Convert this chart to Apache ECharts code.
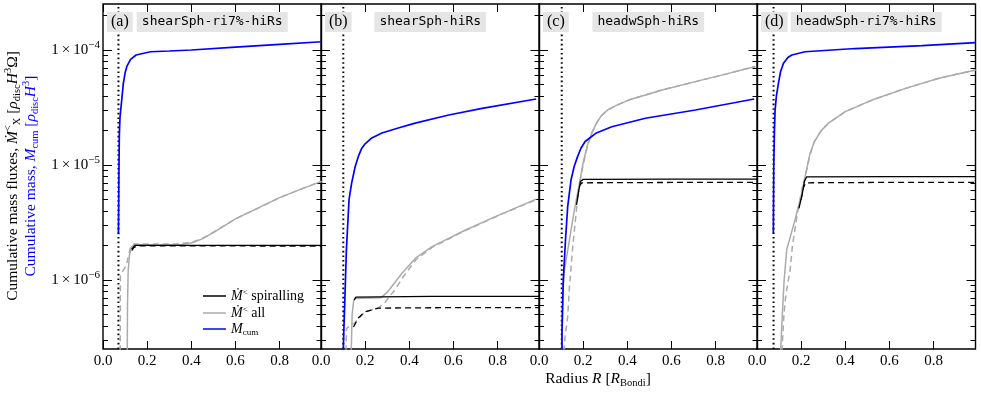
<!DOCTYPE html>
<html><head><meta charset="utf-8">
<script src="https://cdn.jsdelivr.net/npm/echarts@6/dist/echarts.min.js"></script>
<style>html,body{margin:0;padding:0;background:#fff}#c{width:981px;height:393px}</style>
</head><body><div id="c"></div>
<script>
// ---------- data ----------
const panelTags = ['(a)', '(b)', '(c)', '(d)'];
const runNames = ['shearSph-ri7%-hiRs', 'shearSph-hiRs', 'headwSph-hiRs', 'headwSph-ri7%-hiRs'];
const innerRadius = [0.07, 0.101, 0.103, 0.075];
const xTickValues = [0, 0.2, 0.4, 0.6, 0.8];
const yMajorTicks = [1e-6, 1e-5, 1e-4];
const yMinorTicks = [3e-7, 4e-7, 5e-7, 6e-7, 7e-7, 8e-7, 9e-7,
  2e-6, 3e-6, 4e-6, 5e-6, 6e-6, 7e-6, 8e-6, 9e-6,
  2e-5, 3e-5, 4e-5, 5e-5, 6e-5, 7e-5, 8e-5, 9e-5, 2e-4];
const xRange = [0, 0.99];
const yRange = [2.512e-7, 2.512e-4];

// panel (a) shearSph-ri7%-hiRs
const aMcum = [[0.070,2.5e-6],[0.072,8e-6],[0.074,1.8e-5],[0.077,2.6e-5],[0.085,3.7e-5],[0.092,5.1e-5],[0.1,6.3e-5],[0.108,7.2e-5],[0.125,8.3e-5],[0.15,9.05e-5],[0.215,9.66e-5],[0.3,9.8e-5],[0.4,1.0e-4],[0.6,1.06e-4],[0.8,1.12e-4],[0.99,1.18e-4]];
const aSpiral = [[0.13,1.85e-6],[0.145,2.0e-6],[0.5,2.0e-6],[0.99,2.0e-6]];
const aSpiralDash = [[0.13,1.8e-6],[0.14,1.92e-6],[0.155,1.98e-6],[0.5,1.98e-6],[0.99,1.97e-6]];
const aAll = [[0.110,2.4e-7],[0.111,6e-7],[0.114,1.2e-6],[0.12,1.65e-6],[0.13,1.95e-6],[0.145,2.03e-6],[0.35,2.03e-6],[0.4,2.1e-6],[0.45,2.28e-6],[0.5,2.58e-6],[0.6,3.4e-6],[0.7,4.2e-6],[0.8,5.2e-6],[0.9,6.2e-6],[0.99,7.2e-6]];
const aAllDash = [[0.078,2.4e-7],[0.079,1.1e-6],[0.09,1.2e-6],[0.105,1.32e-6],[0.115,1.6e-6],[0.125,1.95e-6],[0.14,2.06e-6],[0.33,2.06e-6],[0.4,2.12e-6],[0.45,2.3e-6],[0.5,2.6e-6],[0.6,3.4e-6],[0.7,4.2e-6],[0.8,5.2e-6],[0.9,6.2e-6],[0.99,7.2e-6]];

// panel (b) shearSph-hiRs
const bMcum = [[0.101,2.4e-7],[0.103,3.4e-7],[0.108,6.7e-7],[0.115,1.82e-6],[0.127,5e-6],[0.139,7.0e-6],[0.155,9.7e-6],[0.17,1.2e-5],[0.185,1.4e-5],[0.2,1.53e-5],[0.23,1.72e-5],[0.276,1.9e-5],[0.35,2.1e-5],[0.427,2.31e-5],[0.579,2.72e-5],[0.73,3.11e-5],[0.975,3.75e-5]];
const bSpiral = [[0.15,6.7e-7],[0.158,7.1e-7],[0.5,7.2e-7],[0.99,7.2e-7]];
const bSpiralDash = [[0.147,3.9e-7],[0.17,4.7e-7],[0.2,5.3e-7],[0.26,5.7e-7],[0.6,5.75e-7],[0.99,5.75e-7]];
const bAll = [[0.137,2.4e-7],[0.141,5e-7],[0.148,6.6e-7],[0.156,6.9e-7],[0.27,7.0e-7],[0.3,7.8e-7],[0.32,8.75e-7],[0.366,1.14e-6],[0.427,1.54e-6],[0.503,1.95e-6],[0.655,2.72e-6],[0.806,3.67e-6],[0.975,5.05e-6]];
const bAllDash = [[0.113,2.4e-7],[0.116,3.8e-7],[0.15,4.2e-7],[0.2,5.3e-7],[0.26,5.7e-7],[0.29,6.4e-7],[0.335,8.2e-7],[0.37,1.05e-6],[0.43,1.5e-6],[0.503,1.92e-6],[0.655,2.7e-6],[0.806,3.65e-6],[0.975,5.0e-6]];

// panel (c) headwSph-hiRs
const cMcum = [[0.104,2.4e-7],[0.104,3.5e-7],[0.11,1e-6],[0.12,2.23e-6],[0.13,4.35e-6],[0.145,7.4e-6],[0.16,9.8e-6],[0.176,1.2e-5],[0.19,1.4e-5],[0.209,1.6e-5],[0.26,1.9e-5],[0.33,2.15e-5],[0.482,2.55e-5],[0.709,3.01e-5],[0.975,3.75e-5]];
const cSpiral = [[0.17,4.5e-6],[0.18,6.0e-6],[0.188,7.2e-6],[0.2,7.5e-6],[0.6,7.55e-6],[0.99,7.55e-6]];
const cSpiralDash = [[0.175,5.3e-6],[0.185,6.7e-6],[0.195,7.0e-6],[0.6,7.05e-6],[0.99,7.05e-6]];
const cAll = [[0.104,2.4e-7],[0.108,8e-7],[0.115,1.22e-6],[0.138,2.23e-6],[0.16,4.05e-6],[0.183,6.9e-6],[0.2,1.05e-5],[0.22,1.5e-5],[0.24,1.92e-5],[0.26,2.3e-5],[0.28,2.65e-5],[0.31,3.0e-5],[0.35,3.3e-5],[0.406,3.67e-5],[0.558,4.49e-5],[0.709,5.31e-5],[0.85,6.2e-5],[0.98,7.2e-5]];
const cAllDash = [[0.113,2.4e-7],[0.118,3.2e-7],[0.13,4.8e-7],[0.138,8.7e-7],[0.153,1.95e-6],[0.168,3.8e-6],[0.18,6.3e-6],[0.2,1.0e-5],[0.22,1.48e-5],[0.24,1.9e-5],[0.26,2.3e-5],[0.28,2.65e-5],[0.31,3.0e-5],[0.35,3.3e-5],[0.406,3.67e-5],[0.558,4.49e-5],[0.709,5.31e-5],[0.85,6.2e-5],[0.98,7.2e-5]];

// panel (d) headwSph-ri7%-hiRs
const dMcum = [[0.074,2.55e-6],[0.076,1.0e-5],[0.079,2.0e-5],[0.082,3.0e-5],[0.088,4.0e-5],[0.097,5.13e-5],[0.107,6.5e-5],[0.12,7.66e-5],[0.14,8.6e-5],[0.158,9.05e-5],[0.218,9.66e-5],[0.445,1.03e-4],[0.748,1.09e-4],[0.99,1.16e-4]];
const dSpiral = [[0.19,4.2e-6],[0.205,5.6e-6],[0.215,7.2e-6],[0.225,7.9e-6],[0.6,7.93e-6],[0.99,7.93e-6]];
const dSpiralDash = [[0.2,5.0e-6],[0.21,6.3e-6],[0.22,7.0e-6],[0.6,7.06e-6],[0.99,7.06e-6]];
const dAll = [[0.107,2.4e-7],[0.115,5.13e-7],[0.123,1.0e-6],[0.135,1.85e-6],[0.168,3.11e-6],[0.199,5.3e-6],[0.221,8.5e-6],[0.24,1.25e-5],[0.26,1.6e-5],[0.29,1.98e-5],[0.324,2.31e-5],[0.4,2.91e-5],[0.521,3.67e-5],[0.673,4.64e-5],[0.824,5.68e-5],[0.99,6.7e-5]];
const dAllDash = [[0.113,2.4e-7],[0.122,5e-7],[0.13,7.2e-7],[0.14,9.5e-7],[0.15,1.22e-6],[0.16,1.95e-6],[0.183,3.8e-6],[0.206,6.5e-6],[0.221,8.3e-6],[0.24,1.23e-5],[0.26,1.6e-5],[0.29,1.98e-5],[0.324,2.31e-5],[0.4,2.91e-5],[0.521,3.67e-5],[0.673,4.64e-5],[0.824,5.68e-5],[0.99,6.7e-5]];

const panels = [
  {mcum: aMcum, spiral: aSpiral, spiralDash: aSpiralDash, all: aAll, allDash: aAllDash},
  {mcum: bMcum, spiral: bSpiral, spiralDash: bSpiralDash, all: bAll, allDash: bAllDash},
  {mcum: cMcum, spiral: cSpiral, spiralDash: cSpiralDash, all: cAll, allDash: cAllDash},
  {mcum: dMcum, spiral: dSpiral, spiralDash: dSpiralDash, all: dAll, allDash: dAllDash}
];

// ---------- layout / style ----------
const SERIF = 'Liberation Serif';
const MONO = 'DejaVu Sans Mono';
const gridLeft = [103, 321, 539, 757];
const gridW = 218.5, gridTop = 4, gridH = 345;
const BLUE = '#0000ff', GRAY = '#ababab', BLACK = '#000000';

const grids = [], xAxes = [], yAxes = [], series = [];
gridLeft.forEach((L, i) => {
  grids.push({left: L, top: gridTop, width: gridW, height: gridH, show: true,
    borderColor: '#000', borderWidth: 1.4, backgroundColor: 'transparent', outerBoundsMode: 'none', containLabel: false});
  const xBase = {gridIndex: i, type: 'value', min: xRange[0], max: xRange[1],
    axisLine: {show: false}, splitLine: {show: false}};
  xAxes.push(Object.assign({}, xBase, {position: 'bottom',
    axisTick: {inside: true, length: 8, customValues: xTickValues, lineStyle: {color: '#000', width: 1}},
    axisLabel: {customValues: xTickValues, fontFamily: SERIF, fontSize: 15, color: '#000', margin: 5,
      formatter: v => v.toFixed(1)}}));
  xAxes.push(Object.assign({}, xBase, {position: 'top',
    axisTick: {inside: true, length: 8, customValues: xTickValues, lineStyle: {color: '#000', width: 1}},
    axisLabel: {show: false}}));
  const yBase = {gridIndex: i, type: 'log', logBase: 10, min: yRange[0], max: yRange[1],
    axisLine: {show: false}, splitLine: {show: false}, minorTick: {show: false}};
  ['left', 'right'].forEach(pos => {
    yAxes.push(Object.assign({}, yBase, {position: pos,
      axisTick: {inside: true, length: 9, customValues: yMajorTicks, lineStyle: {color: '#000', width: 1}},
      axisLabel: (i === 0 && pos === 'left') ? {customValues: yMajorTicks, margin: 3,
        formatter: v => '{b|1\u2009×\u200910}{s|\u2212' + (-Math.round(Math.log10(v))) + '}',
        rich: {b: {fontFamily: SERIF, fontSize: 15, color: '#000', lineHeight: 20},
               s: {fontFamily: SERIF, fontSize: 11, color: '#000', lineHeight: 11, verticalAlign: 'top'}}}
        : {show: false}}));
    yAxes.push(Object.assign({}, yBase, {position: pos,
      axisTick: {inside: true, length: 5, customValues: yMinorTicks, lineStyle: {color: '#000', width: 1}},
      axisLabel: {show: false}}));
  });

  const P = panels[i];
  const sfx = i === 0 ? '' : ' ' + panelTags[i];
  const mk = (name, data, color, width, dash, z) => ({
    type: 'line', name: name, data: data, xAxisIndex: 2 * i, yAxisIndex: 4 * i,
    symbol: 'none', showSymbol: false, silent: true, animation: false, z: z, clip: true,
    lineStyle: {color: color, width: width, type: dash || 'solid', cap: 'butt'}, itemStyle: {color: color}
  });
  series.push(mk('rin' + sfx, [[innerRadius[i], yRange[0]], [innerRadius[i], yRange[1]]], BLACK, 2, [1.6, 3], 1));
  series.push(mk('all dashed' + sfx, P.allDash, GRAY, 1.5, [6, 4], 2));
  series.push(mk('spiralling dashed' + sfx, P.spiralDash, BLACK, 1.3, [6, 4], 3));
  series.push(mk('all' + sfx, P.all, GRAY, 1.5, null, 4));
  series.push(mk('spiralling' + sfx, P.spiral, BLACK, 1.3, null, 5));
  series.push(mk('Mcum' + sfx, P.mcum, BLUE, 1.7, null, 6));
});

const richBase = {
  t: {fontFamily: SERIF, fontSize: 15.5, lineHeight: 20},
  i: {fontFamily: SERIF, fontSize: 15.5, fontStyle: 'italic', lineHeight: 20},
  sup: {fontFamily: SERIF, fontSize: 10.5, lineHeight: 10, verticalAlign: 'top'},
  sub: {fontFamily: SERIF, fontSize: 10.5, lineHeight: 10, verticalAlign: 'bottom'}
};
function rich(color) {
  const r = {};
  Object.keys(richBase).forEach(k => { r[k] = Object.assign({}, richBase[k], {fill: color, color: color}); });
  return r;
}

const graphics = [];
gridLeft.forEach((L, i) => {
  graphics.push({type: 'text', left: L + 4, top: 12, z: 50, style: {
    text: panelTags[i], font: '16px "' + SERIF + '"', fill: '#000',
    backgroundColor: '#e5e5e5', padding: [1, 4, 1, 4], lineHeight: 18}});
  graphics.push({type: 'text', x: L + gridW / 2, y: 12, z: 50, style: {
    text: runNames[i], font: '13px "' + MONO + '"', fill: '#000', align: 'center', verticalAlign: 'top',
    backgroundColor: '#e5e5e5', padding: [3, 5, 3, 5], lineHeight: 14}});
});
graphics.push({type: 'text', x: 13, y: 176, rotation: Math.PI / 2, style: {
  text: '{t|Cumulative mass fluxes, }{i|Ṁ}{sup|<}{sub|X}{t| [}{i|ρ}{sub|disc}{i|H}{sup|3}{t|Ω]}',
  rich: rich('#000'), fill: '#000', align: 'center', verticalAlign: 'middle'}});
graphics.push({type: 'text', x: 31, y: 176, rotation: Math.PI / 2, style: {
  text: '{t|Cumulative mass, }{i|M}{sub|cum}{t| [}{i|ρ}{sub|disc}{i|H}{sup|3}{t|]}',
  rich: rich(BLUE), fill: BLUE, align: 'center', verticalAlign: 'middle'}});
graphics.push({type: 'text', x: 598, y: 379, style: {
  text: '{t|Radius }{i|R}{t| [}{i|R}{sub|Bondi}{t|]}',
  rich: rich('#000'), fill: '#000', align: 'center', verticalAlign: 'middle'}});

const chart = echarts.init(document.getElementById('c'), null, {renderer: 'canvas'});
chart.setOption({
  animation: false,
  backgroundColor: '#fff',
  grid: grids, xAxis: xAxes, yAxis: yAxes, series: series,
  legend: {left: 203, top: 288, padding: 0, orient: 'vertical', itemWidth: 23, itemHeight: 1.5, itemGap: 2,
    icon: 'rect', selectedMode: false, data: ['spiralling', 'all', 'Mcum'],
    formatter: n => ({spiralling: '{i|Ṁ}{sup|<}{t| spiralling}', all: '{i|Ṁ}{sup|<}{t| all}', Mcum: '{i|M}{sub|cum}'}[n]),
    textStyle: {fontFamily: SERIF, fontSize: 14, color: '#000', rich: {
      t: {fontFamily: SERIF, fontSize: 14, color: '#000', lineHeight: 16},
      i: {fontFamily: SERIF, fontSize: 14, fontStyle: 'italic', color: '#000', lineHeight: 16},
      sup: {fontFamily: SERIF, fontSize: 9, color: '#000', lineHeight: 9, verticalAlign: 'top'},
      sub: {fontFamily: SERIF, fontSize: 9, color: '#000', lineHeight: 9, verticalAlign: 'bottom'}}}},
  graphic: graphics
});
</script></body></html>
